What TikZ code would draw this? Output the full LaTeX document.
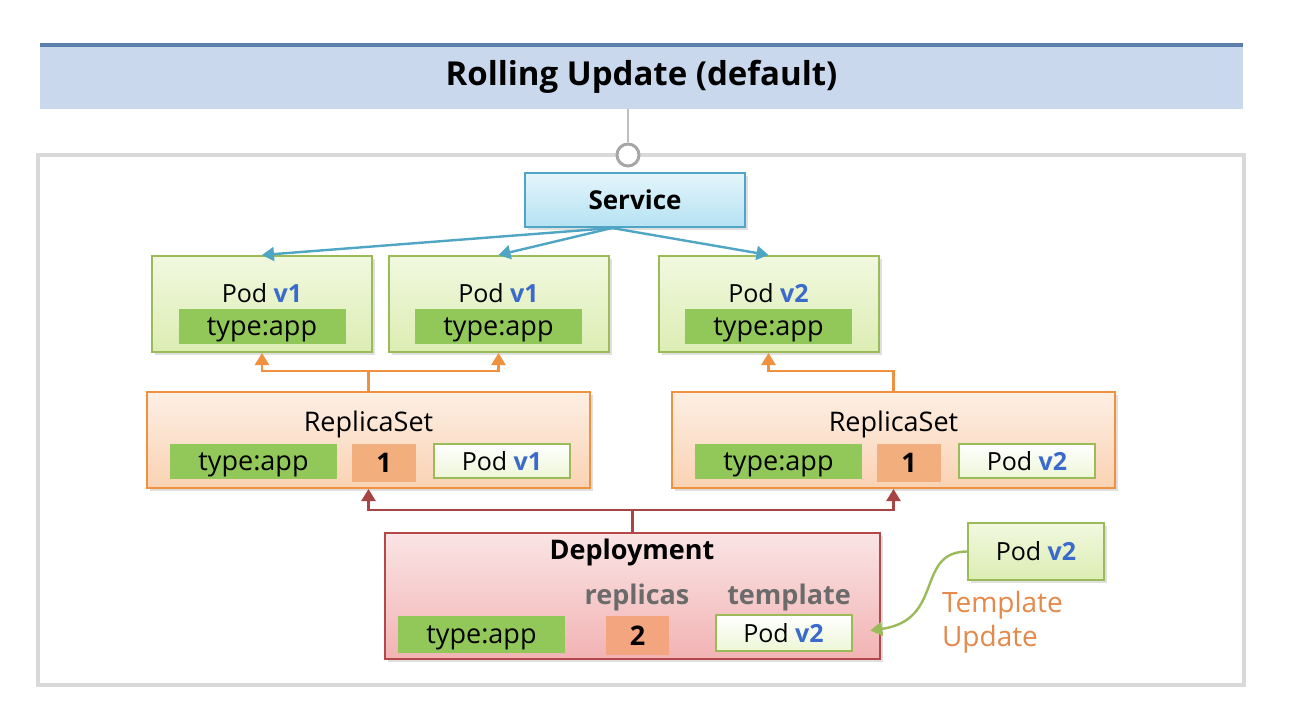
\documentclass[tikz,border=0pt]{standalone}
\usepackage{fontspec}
\setmainfont{Open Sans}
\usetikzlibrary{arrows.meta,shadows}

\definecolor{titlefill}{HTML}{C9D8EC}
\definecolor{titleline}{HTML}{5B7FAD}
\definecolor{framegray}{HTML}{D9D9D9}
\definecolor{svctop}{HTML}{E4F5FB}
\definecolor{svcbot}{HTML}{B5E2F3}
\definecolor{svcline}{HTML}{4FA6C4}
\definecolor{podtop}{HTML}{F1F8DF}
\definecolor{podbot}{HTML}{DCEDB3}
\definecolor{podline}{HTML}{9BBB59}
\definecolor{taggreen}{HTML}{92C85A}
\definecolor{vblue}{HTML}{3A6ACB}
\definecolor{rstop}{HTML}{FDEFE4}
\definecolor{rsbot}{HTML}{FAD2B3}
\definecolor{rsline}{HTML}{EF913F}
\definecolor{cntone}{HTML}{F3AE7E}
\definecolor{cnttwo}{HTML}{F2A57E}
\definecolor{deptop}{HTML}{FAE4E4}
\definecolor{depbot}{HTML}{F2B3B4}
\definecolor{depline}{HTML}{B3474A}
\definecolor{redarrow}{HTML}{A84444}
\definecolor{grayword}{HTML}{6B6B6B}
\definecolor{updword}{HTML}{E4894A}

\newcommand{\ver}[1]{\textcolor{vblue}{\textbf{#1}}}

\begin{document}
\begin{tikzpicture}[x=0.5pt, y=-0.5pt, font=\fontsize{13.5}{16}\selectfont,
    box/.style={rectangle, inner sep=0pt, line width=1pt,
      drop shadow={shadow xshift=1.5pt, shadow yshift=-1.5pt, opacity=.25, fill=gray}},
    podbox/.style={box, draw=podline, top color=podtop, bottom color=podbot},
    podname/.style={font=\fontsize{12.5}{15}\selectfont},
    smallpod/.style={podname, rectangle, inner sep=0pt, line width=1pt, draw=podline,
      top color=white, bottom color=podtop!80!podbot, minimum width=68pt, minimum height=17pt},
    tag/.style={rectangle, inner sep=0pt, text depth=0pt, fill=taggreen,
      minimum width=83.5pt, minimum height=17.5pt},
    arr/.style={-{Triangle[width=7pt,length=6pt]}, line width=1.2pt},
  ]
  \useasboundingbox (0,0) rectangle (1314,722);

  % title bar
  \node[rectangle, fill=titlefill, minimum width=601.5pt, minimum height=32pt, inner sep=0pt]
    (title) at (641.5,77) {\fontsize{16.5}{19}\selectfont\textbf{Rolling Update (default)}};
  \draw[titleline, line width=2pt] (title.north west) -- (title.north east);

  % outer frame
  \node[rectangle, draw=framegray, line width=2pt, fill=white, minimum width=603pt,
    minimum height=265pt, inner sep=0pt] (frame) at (641,420) {};
  \node[circle, draw=gray!70, fill=white, line width=1.5pt, minimum size=11pt, inner sep=0pt]
    (knob) at (628,155) {};
  \draw[gray!50, line width=0.8pt] (628,109) -- (knob);

  % service
  \node[box, draw=svcline, top color=svctop, bottom color=svcbot, minimum width=110pt,
    minimum height=27pt, font=\fontsize{13}{15}\selectfont] (svc) at (635,200) {\textbf{Service}};
  \coordinate (svfoot) at (612,228);

  % pods
  \foreach \n/\x/\v in {pa/262/v1, pb/498.5/v1, pc/768.5/v2} {
    \node[podbox, minimum width=110pt, minimum height=48pt] (\n) at (\x,304) {};
    \node[podname] (\n t) at (\x,293) {Pod \ver{\v}};
    \node[tag] (\n l) at (\x,326.5) {type:app};
  }
  \foreach \n in {pa, pb, pc}
    \draw[arr, svcline] (svfoot) -- (\n.north);

  % replicasets
  \foreach \n/\x/\v in {rsa/368.5/v1, rsb/893.5/v2} {
    \node[box, draw=rsline, top color=rstop, bottom color=rsbot, minimum width=221.5pt,
      minimum height=48pt] (\n) at (\x,440) {};
    \node (\n t) at (\x,424) {ReplicaSet};
    \node[tag] (\n l) at (\x-115,461.5) {type:app};
    \node[rectangle, fill=cntone, minimum width=32pt, minimum height=19pt, inner sep=0pt]
      (\n c) at (\x+15.5,463) {\textbf{1}};
    \node[smallpod] (\n p) at (\x+133.5,461) {Pod \ver{\v}};
  }
  \draw[arr, rsline] (rsa.north) -- ++(0,-20) -| (pa.south);
  \draw[arr, rsline] (rsa.north) -- ++(0,-20) -| (pb.south);
  \draw[arr, rsline] (rsb.north) -- ++(0,-20) -| (pc.south);

  % deployment
  \node[box, draw=depline, top color=deptop, bottom color=depbot, minimum width=247.5pt,
    minimum height=63pt] (dep) at (632.5,596) {};
  \node (dept) at (632,552) {\textbf{Deployment}};
  \node[text=grayword] (repw) at (637,597) {\textbf{replicas}};
  \node[text=grayword] (tplw) at (789,597) {\textbf{template}};
  \node[tag, minimum height=18.5pt] (depl) at (481.5,634.5) {type:app};
  \node[rectangle, fill=cnttwo, minimum width=31.5pt, minimum height=19.5pt, inner sep=0pt]
    (depc) at (637.5,635.5) {\textbf{2}};
  \node[smallpod, minimum height=18pt] (depp) at (783.5,633) {Pod \ver{v2}};
  \draw[arr, redarrow] (dep.north) -- ++(0,-22) -| (rsa.south);
  \draw[arr, redarrow] (dep.north) -- ++(0,-22) -| (rsb.south);

  % new template
  \node[podbox, podname, minimum width=68pt, minimum height=28.5pt] (newpod) at (1036,551.5) {Pod \ver{v2}};
  \draw[arr, podline, shorten >=9pt] (newpod.west) .. controls (915,552) and (945,620) .. (depp.east);
  \node[text=updword, align=left, anchor=west, font=\fontsize{14}{17}\selectfont]
    (updw) at (935,622) {Template\\Update};
\end{tikzpicture}
\end{document}
